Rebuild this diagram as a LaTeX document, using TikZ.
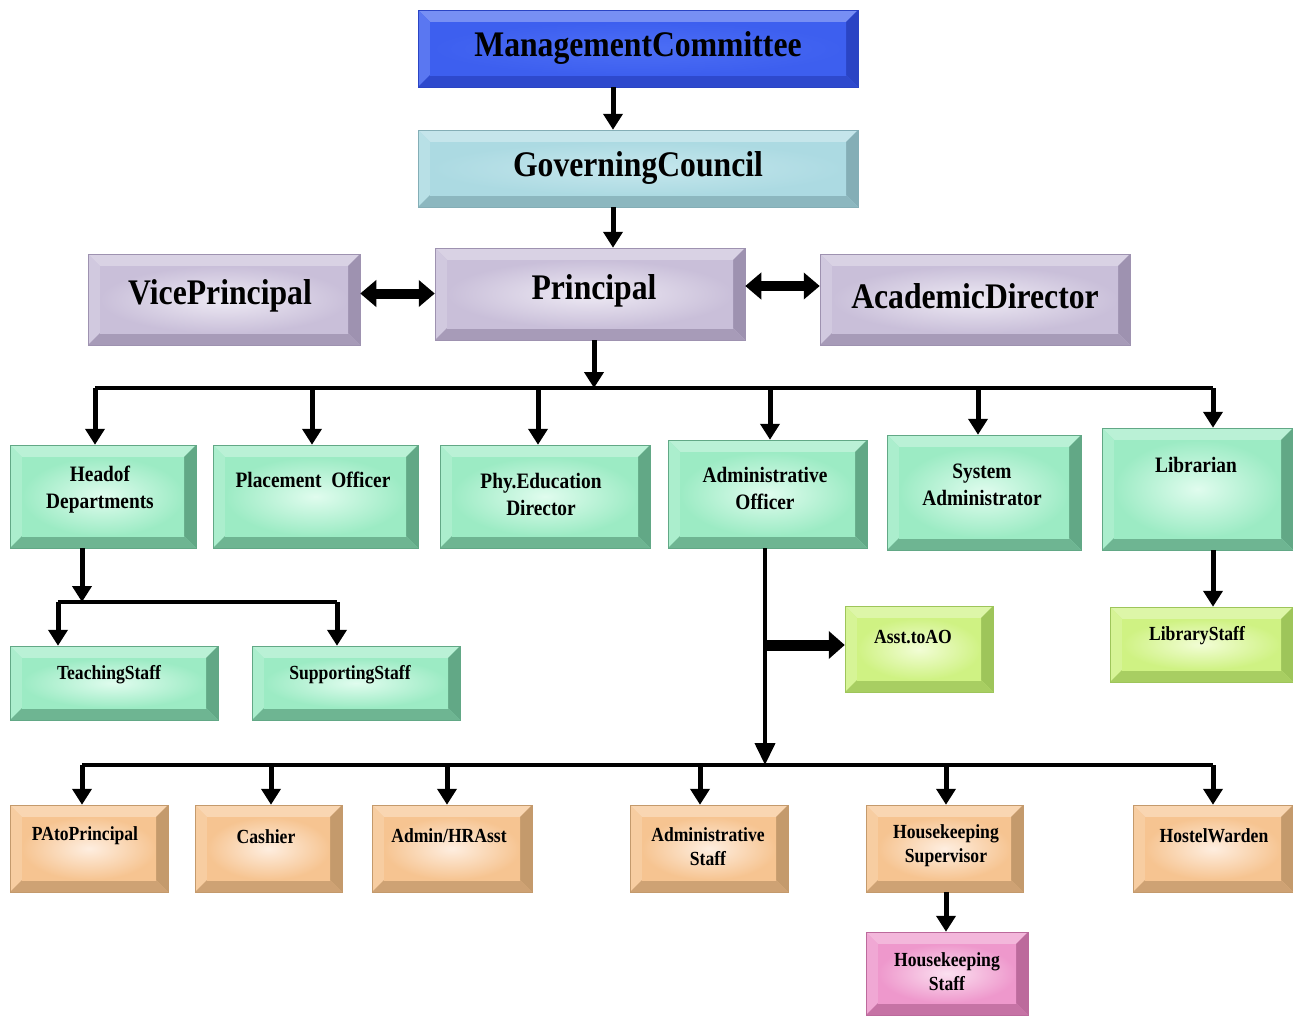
\documentclass[tikz,border=0pt]{standalone}
\usepackage{fontspec}
\setmainfont{Liberation Serif}[FakeStretch=0.88]
\usetikzlibrary{arrows.meta}

\definecolor{mcface}{HTML}{3D5FEF}
\definecolor{mclite}{HTML}{4C6EF5}
\definecolor{mcdark}{HTML}{2A44C4}
\definecolor{gcface}{HTML}{ACDAE2}
\definecolor{gclite}{HTML}{C6E7ED}
\definecolor{gcdark}{HTML}{84AEB6}
\definecolor{lvface}{HTML}{C9BFD9}
\definecolor{lvlite}{HTML}{EEEAF4}
\definecolor{lvdark}{HTML}{9E92B0}
\definecolor{mtface}{HTML}{9CEBC4}
\definecolor{mtlite}{HTML}{E0FCEE}
\definecolor{mtdark}{HTML}{62A886}
\definecolor{ygface}{HTML}{CFF283}
\definecolor{yglite}{HTML}{F2FDD6}
\definecolor{ygdark}{HTML}{9EC55A}
\definecolor{pcface}{HTML}{F6C491}
\definecolor{pclite}{HTML}{FEEEE0}
\definecolor{pcdark}{HTML}{C49A6C}
\definecolor{pkface}{HTML}{EE98CC}
\definecolor{pklite}{HTML}{FBE0F0}
\definecolor{pkdark}{HTML}{BC6A9C}

\newcommand{\bv}{12pt}

\tikzset{
  bevel/.style n args={3}{rectangle, inner sep=0pt, draw=#3, line width=0.5pt,
    path picture={
      \path (path picture bounding box.south west) coordinate (bsw)
            (path picture bounding box.north east) coordinate (bne)
            (path picture bounding box.north west) coordinate (bnw)
            (path picture bounding box.south east) coordinate (bse);
      \fill[#1] (bsw) rectangle (bne);
      \fill[#1!70!white] (bnw) -- (bne) -- ([shift={(-\bv,-\bv)}]bne) -- ([shift={(\bv,-\bv)}]bnw) -- cycle;
      \fill[#1!85!white] (bnw) -- (bsw) -- ([shift={(\bv,\bv)}]bsw) -- ([shift={(\bv,-\bv)}]bnw) -- cycle;
      \fill[#3] (bne) -- (bse) -- ([shift={(-\bv,\bv)}]bse) -- ([shift={(-\bv,-\bv)}]bne) -- cycle;
      \fill[#3!80!#1] (bsw) -- (bse) -- ([shift={(-\bv,\bv)}]bse) -- ([shift={(\bv,\bv)}]bsw) -- cycle;
      \shade[inner color=#2, outer color=#1] ([shift={(\bv,\bv)}]bsw) rectangle ([shift={(-\bv,-\bv)}]bne);
    }},
  mgmtbox/.style={bevel={mcface}{mclite}{mcdark}},
  govbox/.style={bevel={gcface}{gclite}{gcdark}},
  headbox/.style={bevel={lvface}{lvlite}{lvdark}},
  deptbox/.style={bevel={mtface}{mtlite}{mtdark}},
  asstbox/.style={bevel={ygface}{yglite}{ygdark}},
  staffbox/.style={bevel={pcface}{pclite}{pcdark}},
  pinkbox/.style={bevel={pkface}{pklite}{pkdark}},
  txtbig/.style={font=\fontsize{36}{40}\selectfont\bfseries},
  txtmid/.style={font=\fontsize{22}{27}\selectfont\bfseries, align=center},
  txtsmall/.style={font=\fontsize{20}{24}\selectfont\bfseries, align=center},
  arr/.style={line width=5pt, -{Triangle[length=16pt,width=19pt]}},
  dblarr/.style={line width=10pt, {Triangle[length=16pt,width=26pt]}-{Triangle[length=16pt,width=26pt]}},
  fatarr/.style={line width=11pt, -{Triangle[length=16pt,width=27pt]}},
  thinarr/.style={line width=4pt, -{Triangle[length=22pt,width=20pt]}},
  bus/.style={line width=4pt}
}

\begin{document}
\begin{tikzpicture}[x=1pt,y=-1pt]
    \fill[white] (0,0) rectangle (1293,1015);
    \useasboundingbox (0,0) rectangle (1293,1015);

    % top of the chart
    \node[mgmtbox, minimum width=440pt, minimum height=77pt] (mc) at (638,48.5) {};
    \node[txtbig] (mc-t) at (638,48) {ManagementCommittee};
    \node[govbox, minimum width=440pt, minimum height=77pt] (gc) at (638,168.5) {};
    \node[txtbig] (gc-t) at (638,168) {GoverningCouncil};

    \node[headbox, minimum width=310pt, minimum height=92pt] (pr) at (590,294) {};
    \node[txtbig] (pr-t) at (594,291) {Principal};
    \node[headbox, minimum width=272pt, minimum height=91pt] (vp) at (224,299.5) {};
    \node[txtbig] (vp-t) at (220,296) {VicePrincipal};
    \node[headbox, minimum width=310pt, minimum height=91pt] (ad) at (975,299.5) {};
    \node[txtbig] (ad-t) at (975,296) {AcademicDirector};

    \draw[arr] ([xshift=-25pt]mc.south) -- ([xshift=-25pt]gc.north);
    \draw[arr] ([xshift=-25pt]gc.south) -- ([xshift=-25pt]gc.south |- pr.north);
    \draw[dblarr] ([yshift=6pt]vp.east) -- ([yshift=6pt]vp.east -| pr.west);
    \draw[dblarr] ([yshift=8pt]pr.east) -- ([yshift=8pt]pr.east -| ad.west);

    % departments
    \node[deptbox, minimum width=186pt, minimum height=103pt] (hod) at (103,496.5) {};
    \node[txtmid] (hod-t) at (100,490) {Headof\\Departments};
    \node[deptbox, minimum width=205pt, minimum height=103pt] (po) at (315.5,496.5) {};
    \node[txtmid] (po-t) at (313,480) {Placement\ \ Officer};
    \node[deptbox, minimum width=210pt, minimum height=103pt] (ped) at (545,496.5) {};
    \node[txtmid] (ped-t) at (541,494) {Phy.Education\\Director};
    \node[deptbox, minimum width=199pt, minimum height=108pt] (ao) at (767.5,494) {};
    \node[txtmid] (ao-t) at (765,488) {Administrative\\Officer};
    \node[deptbox, minimum width=194pt, minimum height=115pt] (sa) at (984,492.5) {};
    \node[txtmid] (sa-t) at (982,485) {System\\Administrator};
    \node[deptbox, minimum width=191pt, minimum height=122pt] (lib) at (1197.5,489) {};
    \node[txtmid] (lib-t) at (1196,465) {Librarian};

    \coordinate (bus1l) at (95,388);
    \coordinate (bus1r) at (1213,388);
    \draw[bus] (bus1l) -- (bus1r);
    \draw[arr] ([xshift=4pt]pr.south) -- ([xshift=4pt]pr.south |- bus1l);
    \draw[arr] (bus1l) -- (bus1l |- hod.north);
    \draw[arr] ([xshift=-3.5pt]po.north |- bus1l) -- ([xshift=-3.5pt]po.north);
    \draw[arr] ([xshift=-7pt]ped.north |- bus1l) -- ([xshift=-7pt]ped.north);
    \draw[arr] ([xshift=2.5pt]ao.north |- bus1l) -- ([xshift=2.5pt]ao.north);
    \draw[arr] ([xshift=-6pt]sa.north |- bus1l) -- ([xshift=-6pt]sa.north);
    \draw[arr] (bus1r) -- (bus1r |- lib.north);

    % under the heads of departments
    \node[deptbox, minimum width=208pt, minimum height=74pt] (ts) at (114,683) {};
    \node[txtsmall] (ts-t) at (109,675) {TeachingStaff};
    \node[deptbox, minimum width=208pt, minimum height=74pt] (ss) at (356,683) {};
    \node[txtsmall] (ss-t) at (350,675) {SupportingStaff};

    \coordinate (bus2l) at (58,602);
    \coordinate (bus2r) at (337,602);
    \draw[arr] ([xshift=-21pt]hod.south) -- ([xshift=-21pt]hod.south |- bus2l);
    \draw[bus] (bus2l) -- (bus2r);
    \draw[arr] (bus2l) -- (bus2l |- ts.north);
    \draw[arr] (bus2r) -- (bus2r |- ss.north);

    % assistants
    \node[asstbox, minimum width=148pt, minimum height=86pt] (asst) at (919,649) {};
    \node[txtsmall] (asst-t) at (913,637) {Asst.toAO};
    \node[asstbox, minimum width=183pt, minimum height=75pt] (ls) at (1201.5,644.5) {};
    \node[txtsmall] (ls-t) at (1197,636) {LibraryStaff};
    \draw[arr] ([xshift=15.5pt]lib.south) -- ([xshift=15.5pt]lib.south |- ls.north);

    % office staff
    \node[staffbox, minimum width=158pt, minimum height=87pt] (pa) at (89,848.5) {};
    \node[txtsmall] (pa-t) at (85,836) {PAtoPrincipal};
    \node[staffbox, minimum width=147pt, minimum height=87pt] (cash) at (268.5,848.5) {};
    \node[txtsmall] (cash-t) at (266,837) {Cashier};
    \node[staffbox, minimum width=160pt, minimum height=87pt] (adhr) at (452,848.5) {};
    \node[txtsmall] (adhr-t) at (449,836) {Admin/HRAsst};
    \node[staffbox, minimum width=158pt, minimum height=87pt] (adst) at (709,848.5) {};
    \node[txtsmall] (adst-t) at (708,847) {Administrative\\Staff};
    \node[staffbox, minimum width=157pt, minimum height=87pt] (hks) at (944.5,848.5) {};
    \node[txtsmall] (hks-t) at (946,846) {Housekeeping\\Supervisor};
    \node[staffbox, minimum width=160pt, minimum height=87pt] (hw) at (1213,848.5) {};
    \node[txtsmall] (hw-t) at (1214,836) {HostelWarden};
    \node[pinkbox, minimum width=162pt, minimum height=83pt] (hkst) at (947,973.5) {};
    \node[txtsmall] (hkst-t) at (947,972) {Housekeeping\\Staff};

    \coordinate (bus3l) at (82,765);
    \coordinate (bus3r) at (1213,765);
    \coordinate (aobr) at (765,645);
    \draw[thinarr] ([xshift=-2.5pt]ao.south) -- ([xshift=-2.5pt]ao.south |- bus3l);
    \draw[fatarr] (aobr) -- (aobr -| asst.west);
    \draw[bus] (bus3l) -- (bus3r);
    \draw[arr] (bus3l) -- (bus3l |- pa.north);
    \draw[arr] ([xshift=2.5pt]cash.north |- bus3l) -- ([xshift=2.5pt]cash.north);
    \draw[arr] ([xshift=-5pt]adhr.north |- bus3l) -- ([xshift=-5pt]adhr.north);
    \draw[arr] ([xshift=-9pt]adst.north |- bus3l) -- ([xshift=-9pt]adst.north);
    \draw[arr] ([xshift=1.5pt]hks.north |- bus3l) -- ([xshift=1.5pt]hks.north);
    \draw[arr] (bus3r) -- (bus3r |- hw.north);
    \draw[arr] ([xshift=1.5pt]hks.south) -- ([xshift=1.5pt]hks.south |- hkst.north);
\end{tikzpicture}
\end{document}
